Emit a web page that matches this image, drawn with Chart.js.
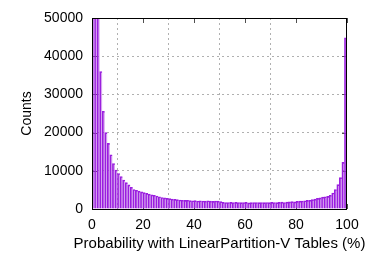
<!DOCTYPE html>
<html>
<head>
<meta charset="utf-8">
<script src="https://cdn.jsdelivr.net/npm/chart.js@4/dist/chart.umd.min.js"></script>
<style>
html,body{margin:0;padding:0;background:#fff;}
#wrap{width:374px;height:261px;}
</style>
</head>
<body>
<div id="wrap"><canvas id="c" width="374" height="261"></canvas></div>
<script>
// Histogram bins: bin i covers [i, i+1) percent
const binStarts = Array.from({length: 100}, (_, i) => i);
const counts = [
  95000, 70000, 52000, 36000, 25600, 20000, 17200, 14200, 11900, 10200,
  9300, 8500, 7600, 6900, 6300, 5700, 5100, 4900, 4700, 4500,
  4300, 4100, 3900, 3700, 3600, 3400, 3200, 3000, 2900, 2800,
  2700, 2600, 2500, 2450, 2350, 2300, 2250, 2300, 2200, 2150,
  2200, 2100, 2150, 2100, 2050, 2150, 2050, 2000, 2100, 2050,
  1950, 1750, 1700, 1700, 1750, 1700, 1750, 1700, 1650, 1700,
  1750, 1600, 1650, 1700, 1700, 1650, 1700, 1650, 1700, 1650,
  1750, 1700, 1650, 1750, 1800, 1700, 1800, 1850, 1950, 1850,
  2000, 2050, 2100, 2150, 2250, 2300, 2450, 2600, 2800, 2900,
  3100, 3200, 3300, 3600, 4200, 5100, 6400, 8200, 12200, 44800
];
const xTicks = [0, 20, 40, 60, 80, 100];
const yTicks = [0, 10000, 20000, 30000, 40000, 50000];
const xTitle = 'Probability with LinearPartition-V Tables (%)';
const yTitle = 'Counts';

const FAMILY = "'Liberation Sans', Arial, sans-serif";
const FONT = {family: FAMILY, size: 14};

const frame = {
  id: 'frame',
  beforeDatasetsDraw(chart) {
    const {ctx, chartArea: a, scales: {x, y}} = chart;
    ctx.save();
    ctx.strokeStyle = '#505050';
    ctx.lineWidth = 1;
    ctx.beginPath();
    const L = 5;
    xTicks.forEach(v => {
      const px = Math.round(x.getPixelForValue(v)) + 0.5;
      ctx.moveTo(px, a.bottom); ctx.lineTo(px, a.bottom - L);
      ctx.moveTo(px, a.top); ctx.lineTo(px, a.top + L);
    });
    yTicks.forEach(v => {
      const py = Math.round(y.getPixelForValue(v)) + 0.5;
      ctx.moveTo(a.left, py); ctx.lineTo(a.left + L, py);
      ctx.moveTo(a.right, py); ctx.lineTo(a.right - L, py);
    });
    ctx.stroke();
    ctx.restore();
  },
  afterDatasetsDraw(chart) {
    const {ctx, chartArea: a} = chart;
    ctx.save();
    ctx.strokeStyle = '#000';
    ctx.lineWidth = 1;
    ctx.strokeRect(Math.round(a.left) + 0.5, Math.round(a.top) + 0.5,
                   Math.round(a.right - a.left) - 1, Math.round(a.bottom - a.top));
    // x-axis title (drawn without the scale's width squeeze)
    ctx.fillStyle = '#000';
    ctx.font = '15px ' + FAMILY;
    ctx.textAlign = 'center';
    ctx.textBaseline = 'middle';
    ctx.fillText(xTitle, (a.left + a.right) / 2, 244);
    ctx.restore();
  }
};

new Chart(document.getElementById('c'), {
  type: 'bar',
  data: {
    datasets: [{
      data: binStarts.map((b, i) => ({x: b + 0.5, y: counts[i]})),
      backgroundColor: 'rgba(160,40,220,0.42)',
      borderColor: '#9a1ee0',
      borderWidth: {left: 1, top: 1, right: 0, bottom: 0},
      borderSkipped: false,
      barPercentage: 1,
      categoryPercentage: 1
    }]
  },
  options: {
    responsive: false,
    animation: false,
    devicePixelRatio: 1,
    layout: {padding: {top: 18, right: 27, left: 0, bottom: 0}},
    plugins: {legend: {display: false}, tooltip: {enabled: false}},
    scales: {
      x: {
        type: 'linear', min: 0, max: 100, offset: false,
        afterBuildTicks: s => { s.ticks = xTicks.map(v => ({value: v})); },
        afterFit: s => { s.height = 52; },
        ticks: {color: '#000', font: FONT, padding: 8, maxRotation: 0, callback: v => String(v)},
        grid: {
          drawTicks: false,
          color: c => (c.tick && (c.tick.value === 0 || c.tick.value === 100)) ? 'rgba(0,0,0,0)' : '#b0b0b0',
          lineWidth: 1
        },
        border: {display: false, dash: [2, 3]},
        title: {display: false}
      },
      y: {
        min: 0, max: 50000,
        afterBuildTicks: s => { s.ticks = yTicks.map(v => ({value: v})); },
        afterFit: s => { s.width = 92; },
        ticks: {color: '#000', font: FONT, padding: 9, callback: v => String(v)},
        grid: {
          drawTicks: false,
          color: c => (c.tick && (c.tick.value === 0 || c.tick.value === 50000)) ? 'rgba(0,0,0,0)' : '#b0b0b0',
          lineWidth: 1
        },
        border: {display: false, dash: [2, 3]},
        title: {display: true, text: yTitle, color: '#000', font: FONT, padding: {top: 19, bottom: 0}}
      }
    }
  },
  plugins: [frame]
});
</script>
</body>
</html>
